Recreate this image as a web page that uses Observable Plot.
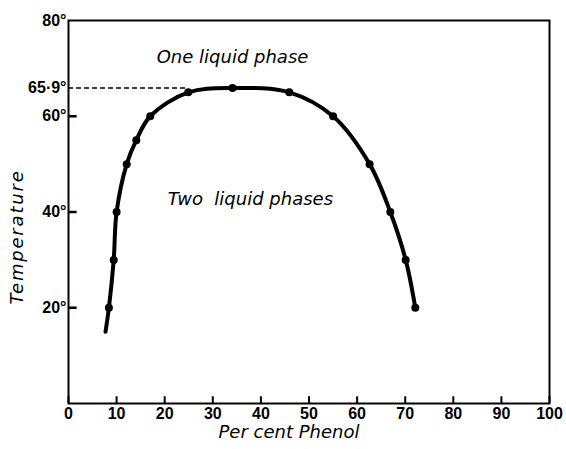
<!DOCTYPE html>
<html><head><meta charset="utf-8">
<script src="https://cdn.jsdelivr.net/npm/d3@7"></script>
<script src="https://cdn.jsdelivr.net/npm/@observablehq/plot@0.6"></script>
<style>body{margin:0;background:#fff}</style>
</head><body><div id="chart"></div>
<script>
// Curve through measured points (first point is the curve's lower extension, no dot)
const phenol      = [7.7, 8.4, 9.4, 10.0, 12.1, 14.1, 17.0, 24.9, 34.1, 45.9, 55.0, 62.6, 66.9, 70.1, 72.1];
const temperature = [15, 20, 30, 40, 50, 55, 60, 65, 65.9, 65, 60, 50, 40, 30, 20];
const measured    = [false, true, true, true, true, true, true, true, true, true, true, true, true, true, true];

const xTicks = [0, 10, 20, 30, 40, 50, 60, 70, 80, 90, 100];
const xTickLabels = ["0", "10", "20", "30", "40", "50", "60", "70", "80", "90", "100"];
const yTicks = [20, 40, 60, 65.9, 80];
const yTickLabels = ["20°", "40°", "60°", "65·9°", "80°"];
const yTickMarks = [20, 40, 60];

const criticalTemp = 65.9;
const dashEnd = 24.9;

const regionLabels = ["One liquid phase", "Two  liquid phases"];
const regionX = [34.1, 37.8];
const regionY = [72.3, 42.6];

const xTitle = "Per cent Phenol";
const yTitle = "Temperature";

const rows = phenol.map((p, i) => ({p, t: temperature[i], m: measured[i]}));
const regions = regionLabels.map((s, i) => ({s, x: regionX[i], y: regionY[i]}));

const italicFont = "'DejaVu Sans', sans-serif";
// inward tick lengths, in data units of the perpendicular axis
const yTickReach = 1.8;   // % phenol
const xTickReach = 1.4;   // degrees

const chart = Plot.plot({
  width: 566,
  height: 449,
  marginLeft: 68,
  marginRight: 17,
  marginTop: 20,
  marginBottom: 46,
  style: {fontFamily: "'Liberation Sans', Arial, sans-serif", background: "#fff", color: "#000"},
  x: {domain: [0, 100]},
  y: {domain: [0, 80]},
  marks: [
    Plot.frame({stroke: "#000", strokeWidth: 2}),
    Plot.axisX({ticks: xTicks, tickFormat: (d) => xTickLabels[xTicks.indexOf(d)], tickSize: 0, tickPadding: 4, fontSize: 16, fontWeight: "bold", label: null}),
    Plot.axisY({ticks: yTicks, tickFormat: (d) => yTickLabels[yTicks.indexOf(d)], tickSize: 0, tickPadding: 2, fontSize: 16, fontWeight: "bold", label: null}),
    Plot.ruleX(xTicks, {x: d => d, y1: 0, y2: xTickReach, stroke: "#000", strokeWidth: 2}),
    Plot.ruleY(yTickMarks, {y: d => d, x1: 0, x2: yTickReach, stroke: "#000", strokeWidth: 2.5}),
    Plot.ruleY([criticalTemp], {x1: 0, x2: dashEnd, stroke: "#000", strokeWidth: 1.6, strokeDasharray: "5,3"}),
    Plot.line(rows, {x: "p", y: "t", curve: "catmull-rom", stroke: "#000", strokeWidth: 4}),
    Plot.dot(rows.filter(d => d.m), {x: "p", y: "t", r: 4, fill: "#000"}),
    Plot.text(regions, {x: "x", y: "y", text: "s", fontSize: 18, fontStyle: "italic", fontFamily: italicFont, fill: "#000"}),
    Plot.text([xTitle], {frameAnchor: "bottom", dx: -20, dy: 34, fontSize: 18, fontStyle: "italic", fontFamily: italicFont, fill: "#000"}),
    Plot.text([yTitle], {frameAnchor: "left", textAnchor: "middle", rotate: -90, dx: -51, dy: 25, fontSize: 18, fontStyle: "italic", fontFamily: italicFont, fill: "#000"})
  ]
});
d3.select(chart).selectAll("text").filter(function() { return this.textContent === yTitle; }).attr("letter-spacing", "1.8px");
d3.select(chart).selectAll("text").filter(function() { return regionLabels.includes(this.textContent); }).attr("xml:space", "preserve").style("white-space", "pre");
document.getElementById("chart").appendChild(chart);
</script>
</body></html>
